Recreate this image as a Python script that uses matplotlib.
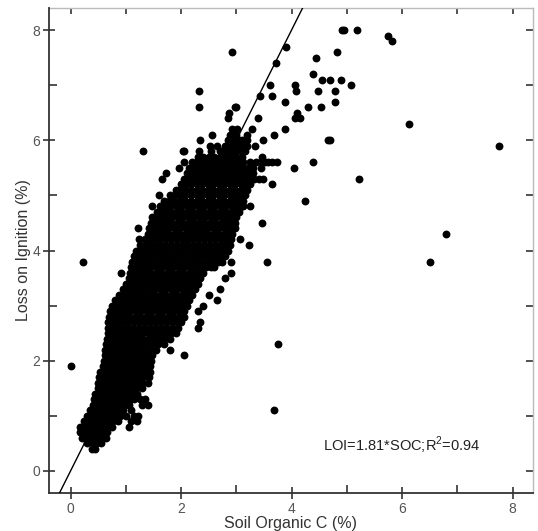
import numpy as np
import matplotlib
matplotlib.use("Agg")
from matplotlib import pyplot as plt
from matplotlib.ticker import MultipleLocator

plt.rcParams['font.family'] = ['Liberation Sans', 'DejaVu Sans']
plt.rcParams['mathtext.fontset'] = 'custom'
plt.rcParams['mathtext.rm'] = 'Liberation Sans'

# Loss on ignition rows (%) and the soil organic C values (%) read in each row
loi_rows = [0.4, 0.5, 0.6, 0.7, 0.8, 0.9, 1.0, 1.1, 1.2, 1.3, 1.4, 1.5, 1.6, 1.7, 1.8, 1.9,
            2.0, 2.1, 2.2, 2.3, 2.4, 2.5, 2.6, 2.7, 2.8, 2.9, 3.0, 3.1, 3.2, 3.3, 3.4, 3.5,
            3.6, 3.7, 3.8, 3.9, 4.0, 4.1, 4.2, 4.3, 4.4, 4.5, 4.6, 4.7, 4.8, 4.9, 5.0, 5.1,
            5.2, 5.3, 5.4, 5.5, 5.6, 5.7, 5.8, 5.9, 6.0, 6.1, 6.2, 6.3, 6.4, 6.5, 6.6, 6.7,
            6.8, 6.9, 7.0, 7.1, 7.2, 7.4, 7.5, 7.6, 7.7, 7.8, 7.9, 8.0]

soc_rows = [
    "0.38 0.45",
    "0.30 0.40 0.48 0.55",
    "0.20 0.30 0.38 0.47 0.56 0.65",
    "0.17 0.26 0.35 0.44 0.52 0.60 0.66",
    "0.17 0.25 0.34 0.42 0.51 0.60 0.68 0.75 1.05",
    "0.25 0.33 0.42 0.50 0.58 0.67 0.76 0.85 1.10 1.20",
    "0.30 0.38 0.47 0.56 0.64 0.72 0.81 0.90 1.00 1.15 1.22",
    "0.35 0.44 0.52 0.61 0.70 0.78 0.87 0.95 1.10 3.68",
    "0.40 0.48 0.57 0.66 0.74 0.83 0.91 0.98 1.05 1.30 1.40",
    "0.42 0.50 0.59 0.68 0.77 0.85 0.93 1.02 1.10 1.15 1.25 1.35",
    "0.45 0.54 0.63 0.72 0.80 0.89 0.97 1.05 1.13 1.20",
    "0.50 0.59 0.67 0.76 0.85 0.93 1.02 1.10 1.19 1.30",
    "0.50 0.59 0.68 0.77 0.85 0.94 1.03 1.12 1.21 1.30 1.40",
    "0.52 0.61 0.70 0.79 0.88 0.96 1.05 1.14 1.23 1.32 1.42",
    "0.53 0.62 0.71 0.80 0.89 0.98 1.07 1.16 1.25 1.35 1.44",
    "0.00 0.58 0.67 0.76 0.85 0.94 1.03 1.12 1.21 1.30 1.38 1.44",
    "0.60 0.69 0.78 0.87 0.96 1.05 1.14 1.23 1.32 1.40 1.46",
    "0.62 0.71 0.80 0.89 0.98 1.07 1.16 1.25 1.34 1.42 1.48 2.05",
    "0.62 0.71 0.80 0.89 0.98 1.07 1.17 1.26 1.35 1.45 1.55 1.80",
    "0.65 0.74 0.83 0.92 1.01 1.10 1.19 1.28 1.38 1.48 1.58 1.70 3.75",
    "0.66 0.75 0.84 0.93 1.02 1.11 1.20 1.30 1.40 1.50 1.60 1.70 1.80",
    "0.68 0.77 0.86 0.95 1.04 1.13 1.22 1.32 1.42 1.52 1.62 1.72 1.82 1.90",
    "0.68 0.77 0.86 0.95 1.04 1.13 1.23 1.33 1.43 1.53 1.63 1.73 1.84 1.95 2.30",
    "0.68 0.77 0.86 0.95 1.04 1.14 1.24 1.34 1.44 1.54 1.64 1.74 1.85 1.95 2.00 2.34",
    "0.70 0.79 0.88 0.97 1.06 1.16 1.26 1.36 1.46 1.56 1.66 1.76 1.86 1.96 2.05",
    "0.72 0.81 0.90 0.99 1.08 1.18 1.28 1.38 1.48 1.58 1.68 1.78 1.88 1.97 2.05 2.30",
    "0.75 0.84 0.93 1.02 1.11 1.21 1.31 1.41 1.51 1.61 1.71 1.81 1.91 2.01 2.10 2.40",
    "0.80 0.89 0.98 1.07 1.16 1.26 1.36 1.46 1.56 1.66 1.76 1.86 1.96 2.06 2.15 2.65",
    "0.87 0.96 1.05 1.14 1.23 1.33 1.43 1.53 1.63 1.73 1.83 1.93 2.03 2.12 2.20 2.50",
    "0.95 1.04 1.13 1.22 1.31 1.41 1.51 1.61 1.71 1.81 1.91 2.01 2.10 2.18 2.25 2.70",
    "1.00 1.09 1.18 1.27 1.36 1.46 1.56 1.66 1.76 1.86 1.96 2.06 2.15 2.23 2.30",
    "1.05 1.14 1.23 1.32 1.41 1.51 1.61 1.71 1.81 1.91 2.01 2.11 2.20 2.28 2.35 2.80",
    "0.92 1.08 1.17 1.26 1.35 1.44 1.54 1.64 1.74 1.84 1.94 2.04 2.14 2.23 2.32 2.40 2.90",
    "1.10 1.19 1.28 1.37 1.46 1.56 1.66 1.76 1.86 1.96 2.06 2.16 2.26 2.36 2.46 2.55 2.60",
    "0.22 1.12 1.21 1.30 1.39 1.48 1.58 1.68 1.78 1.88 1.98 2.08 2.18 2.28 2.38 2.48 2.58 2.67 2.75 2.90 3.55 6.50",
    "1.15 1.24 1.33 1.42 1.51 1.61 1.71 1.81 1.91 2.01 2.11 2.21 2.31 2.41 2.51 2.61 2.71 2.80",
    "1.18 1.27 1.36 1.45 1.54 1.64 1.74 1.84 1.94 2.04 2.14 2.24 2.34 2.44 2.54 2.64 2.74 2.85",
    "1.25 1.34 1.43 1.52 1.61 1.71 1.81 1.91 2.01 2.11 2.21 2.31 2.41 2.51 2.61 2.71 2.80 2.88 3.23",
    "1.24 1.35 1.44 1.53 1.62 1.72 1.82 1.92 2.02 2.12 2.22 2.32 2.42 2.52 2.62 2.72 2.82 2.90 3.07",
    "1.40 1.49 1.58 1.67 1.77 1.87 1.97 2.07 2.17 2.27 2.37 2.47 2.57 2.67 2.77 2.86 2.92 6.80",
    "1.22 1.42 1.51 1.60 1.69 1.79 1.89 1.99 2.09 2.19 2.29 2.39 2.49 2.59 2.69 2.79 2.88 2.94 2.98",
    "1.45 1.54 1.63 1.72 1.82 1.92 2.02 2.12 2.22 2.32 2.42 2.52 2.62 2.72 2.82 2.90 2.97 3.46",
    "1.47 1.56 1.65 1.74 1.84 1.94 2.04 2.14 2.24 2.34 2.44 2.54 2.64 2.74 2.84 2.93 3.00",
    "1.56 1.64 1.73 1.82 1.92 2.02 2.12 2.22 2.32 2.42 2.52 2.62 2.72 2.82 2.92 3.00 3.05",
    "1.48 1.62 1.71 1.80 1.90 2.00 2.10 2.20 2.30 2.40 2.50 2.60 2.70 2.80 2.90 3.00 3.10 3.13 3.25",
    "1.70 1.79 1.88 1.98 2.08 2.18 2.28 2.38 2.48 2.58 2.68 2.78 2.88 2.98 3.06 3.13 4.25",
    "1.60 1.80 1.89 1.98 2.08 2.18 2.28 2.38 2.48 2.58 2.68 2.78 2.88 2.98 3.07 3.15",
    "1.90 1.99 2.08 2.18 2.28 2.38 2.48 2.58 2.68 2.78 2.88 2.98 3.08 3.15 3.20",
    "2.00 2.09 2.18 2.28 2.38 2.48 2.58 2.68 2.78 2.88 2.98 3.08 3.17 3.25 3.64",
    "1.66 2.05 2.14 2.23 2.33 2.43 2.53 2.63 2.73 2.83 2.93 3.03 3.13 3.23 3.32 3.41 3.49 5.22",
    "1.73 2.10 2.19 2.28 2.38 2.48 2.58 2.68 2.78 2.88 2.98 3.08 3.18 3.26 3.30",
    "1.96 2.15 2.24 2.33 2.43 2.53 2.63 2.73 2.83 2.93 3.03 3.13 3.22 3.30 3.45 4.05",
    "2.05 2.20 2.29 2.38 2.48 2.58 2.68 2.78 2.88 2.98 3.06 3.13 3.25 3.35 3.45 3.52 3.58 3.65 3.74 4.39",
    "2.30 2.40 2.50 2.60 2.70 2.80 2.90 3.00 3.10 3.46",
    "1.31 2.04 2.05 2.33 2.55 2.70 2.75 2.82 2.89 2.95 3.00 3.08 3.16",
    "2.52 2.65 2.80 2.90 3.00 3.10 3.20 3.34 7.76",
    "2.35 2.85 2.90 2.95 3.05 3.10 3.20 3.48 4.66 4.70",
    "2.56 2.89 2.95 3.00 3.19 3.69",
    "2.92 3.02 3.28 3.88",
    "6.13",
    "2.85 3.39 4.06 4.15",
    "2.87 4.10",
    "2.33 2.98 3.00 4.30 4.54",
    "3.88 4.79",
    "3.43 3.65",
    "2.33 4.08 4.48 4.79",
    "3.61 4.06 5.07",
    "4.56 4.70 4.90",
    "4.39",
    "3.72",
    "4.45",
    "2.92 4.82",
    "3.90",
    "5.82",
    "5.75",
    "4.92 4.95 5.19",
]

# fitted line shown on the chart
fit_slope = 2.0
fit_intercept = 0.0
fit_label = "LOI=1.81*SOC;R$^2$=0.94"

soc = []
loi = []
for y, row in zip(loi_rows, soc_rows):
    for v in row.split():
        soc.append(float(v))
        loi.append(y)

fig = plt.figure(figsize=(5.38, 5.31), dpi=100)
ax = fig.add_axes([49/538, 38/531, 484/538, 485/531])

ax.scatter(soc, loi, s=32, c='black', linewidths=0, zorder=3)

xl = np.array([-0.4, 4.4])
ax.plot(xl, fit_slope*xl + fit_intercept, color='black', lw=1.0, zorder=4)

ax.set_xlim(-0.39, 8.37)
ax.set_ylim(-0.40, 8.40)

dark = '#333333'
for s in ['left', 'bottom']:
    ax.spines[s].set_color(dark)
    ax.spines[s].set_linewidth(1.3)
for s in ['top', 'right']:
    ax.spines[s].set_visible(False)

ax.xaxis.set_major_locator(MultipleLocator(2))
ax.xaxis.set_minor_locator(MultipleLocator(1))
ax.yaxis.set_major_locator(MultipleLocator(2))
ax.yaxis.set_minor_locator(MultipleLocator(1))
ax.tick_params(which='major', direction='inout', length=9, width=1.2, color=dark,
               labelsize=10, labelcolor='#555555', pad=2)
ax.tick_params(which='minor', direction='in', length=5.5, width=1.2, color=dark)

top = ax.secondary_xaxis('top')
top.set_xticks(np.arange(0, 9, 1))
top.tick_params(direction='in', length=4.5, width=1.2, color=dark, labeltop=False)
top.spines['top'].set_color('#bbbbbb')
top.spines['top'].set_linewidth(1.0)

right = ax.secondary_yaxis('right')
right.set_yticks(np.arange(0, 9, 1))
right.tick_params(direction='in', length=5, width=1.2, color=dark, labelright=False)
right.spines['right'].set_color('#bbbbbb')
right.spines['right'].set_linewidth(1.0)

ax.set_xlabel("Soil Organic C (%)", fontsize=11.5, color='#333333', labelpad=0)
ax.set_ylabel("Loss on Ignition (%)", fontsize=11.5, color='#333333', labelpad=1)

ax.text(4.57, 0.47, fit_label, fontsize=10.5, color='#222222', va='center', ha='left')

fig.savefig("out.png", dpi=100)
